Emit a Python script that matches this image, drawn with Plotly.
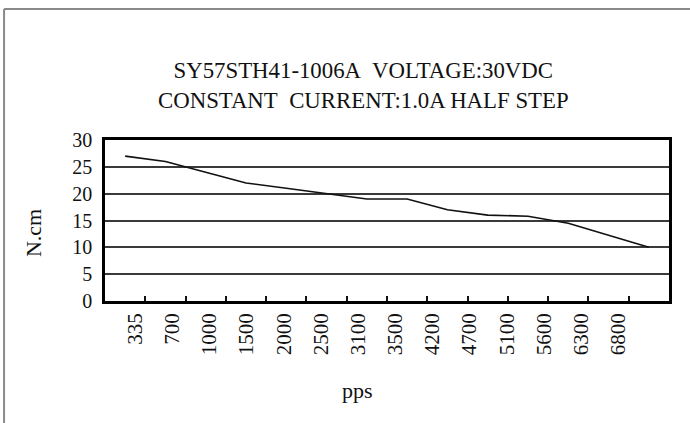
import plotly.graph_objects as go

# ---- data ----
pps_labels = ["335", "700", "1000", "1500", "2000", "2500", "3100", "3500",
              "4200", "4700", "5100", "5600", "6300", "6800"]
torque = [27, 26, 24, 22, 21, 20, 19, 19, 17, 16, 15.8, 14.5, 12.3, 10]
y_ticks = [0, 5, 10, 15, 20, 25, 30]

title_lines = ["SY57STH41-1006A\u00a0 VOLTAGE:30VDC",
               "CONSTANT\u00a0 CURRENT:1.0A HALF STEP"]
x_title = "pps"
y_title = "N.cm"

FONT = "Liberation Serif, Times New Roman, serif"

n = len(pps_labels)
idx = list(range(n))

fig = go.Figure()
fig.add_trace(go.Scatter(
    x=pps_labels, y=torque, mode="lines",
    line=dict(color="#111111", width=1.6),
    showlegend=False, hoverinfo="x+y",
))
# carrier (no visible marks) so that the label axis is drawn
fig.add_trace(go.Scatter(
    x=idx, y=[None] * n, xaxis="x2", mode="lines",
    showlegend=False, hoverinfo="skip",
))

fig.update_layout(
    width=690, height=423,
    margin=dict(l=105, r=21, t=140, b=122),
    paper_bgcolor="white", plot_bgcolor="white",
    font=dict(family=FONT, color="#111111", size=20),
    xaxis=dict(
        type="category", range=[-0.5, n - 0.5],
        tickson="boundaries", ticks="inside", ticklen=5, tickwidth=1.5,
        tickcolor="#111111", showticklabels=False, showgrid=False,
        showline=True, mirror=True, linecolor="black", linewidth=2.5,
        zeroline=False,
    ),
    xaxis2=dict(
        overlaying="x", side="bottom", anchor="y",
        range=[-0.807, 14.363],
        tickmode="array", tickvals=idx, ticktext=pps_labels,
        tickangle=-90, ticks="", showgrid=False, showline=False,
        zeroline=False, tickfont=dict(size=21, family=FONT),
        ticklabelstandoff=7,
    ),
    yaxis=dict(
        range=[0, 30], tickmode="array", tickvals=y_ticks,
        showgrid=True, gridcolor="#3a3a3a", gridwidth=1.5,
        showline=True, mirror=True, linecolor="black", linewidth=2.5,
        ticks="", zeroline=False, tickfont=dict(size=20, family=FONT),
        ticklabelstandoff=6,
    ),
    annotations=[
        dict(text="<br>".join(title_lines), xref="paper", yref="paper",
             x=0.459, y=1.3385, xanchor="center", yanchor="middle",
             showarrow=False, align="center",
             font=dict(size=22.8, family=FONT, color="#111111")),
        dict(text=x_title, xref="paper", yref="paper",
             x=0.447, y=-0.553, xanchor="center", yanchor="middle",
             showarrow=False, font=dict(size=22, family=FONT, color="#111111")),
        dict(text=y_title, xref="paper", yref="paper", textangle=-90,
             x=-0.1277, y=0.422, xanchor="center", yanchor="middle",
             showarrow=False, font=dict(size=22, family=FONT, color="#111111")),
    ],
    shapes=[
        dict(type="line", xref="paper", yref="paper",
             x0=-0.179, x1=-0.179, y0=-0.78, y1=1.814,
             line=dict(color="#8a8a8a", width=2)),
        dict(type="line", xref="paper", yref="paper",
             x0=-0.179, x1=1.05, y0=1.814, y1=1.814,
             line=dict(color="#8a8a8a", width=2)),
    ],
)

fig.write_html("out.html",
               config={"displayModeBar": False},
               post_script="document.body.style.margin='0';"
                           "document.body.style.overflow='hidden';")
